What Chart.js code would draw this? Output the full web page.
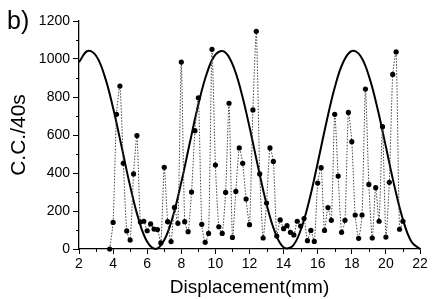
<!DOCTYPE html>
<html>
<head>
<meta charset="utf-8">
<script src="https://cdn.jsdelivr.net/npm/chart.js@4"></script>
<style>
  html, body { margin: 0; padding: 0; background: #ffffff; }
  #wrap { width: 436px; height: 299px; position: relative; }
</style>
</head>
<body>
<div id="wrap"><canvas id="c" width="436" height="299"></canvas></div>
<script>
// Measured points: displacement (mm) and counts per 40 s
const displacement = [
  3.8, 4.0, 4.2, 4.4, 4.6, 4.8, 5.0, 5.2, 5.4, 5.6, 5.8,
  6.0, 6.2, 6.4, 6.6, 6.8, 7.0, 7.2, 7.4, 7.6, 7.8,
  8.0, 8.2, 8.4, 8.6, 8.8, 9.0, 9.2, 9.4, 9.6, 9.8,
  10.0, 10.2, 10.4, 10.6, 10.8, 11.0, 11.2, 11.4, 11.6, 11.8,
  12.0, 12.2, 12.4, 12.6, 12.8, 13.0, 13.2, 13.4, 13.6, 13.8,
  14.0, 14.2, 14.4, 14.6, 14.8, 15.0, 15.2, 15.4, 15.6, 15.8,
  16.0, 16.2, 16.4, 16.6, 16.8, 17.0, 17.2, 17.4, 17.6, 17.8,
  18.0, 18.2, 18.4, 18.6, 18.8, 19.0, 19.2, 19.4, 19.6, 19.8,
  20.0, 20.2, 20.4, 20.6, 20.8, 21.0
];
const counts = [
  0, 140, 709, 858, 451, 95, 47, 395, 597, 142, 146,
  96, 132, 105, 102, 32, 430, 144, 39, 219, 135,
  984, 144, 91, 300, 623, 796, 130, 35, 82, 1051,
  442, 117, 82, 298, 767, 61, 303, 532, 451, 263,
  128, 732, 1146, 395, 58, 242, 532, 461, 68, 153,
  107, 123, 88, 74, 146, 121, 160, 44, 98, 40,
  347, 428, 98, 218, 151, 709, 384, 88, 151, 719,
  565, 179, 56, 179, 842, 340, 58, 323, 146, 644,
  63, 351, 919, 1037, 104, 146
];

// Fitted curve
const fitX = [
  2, 2.5, 3, 3.5, 4, 4.5, 5, 5.5, 6, 6.5, 7, 7.5, 8, 8.5, 9, 9.5,
  10, 10.5, 11, 11.5, 12, 12.5, 13, 13.5, 14, 14.5, 15, 15.5, 16, 16.5,
  17, 17.5, 18, 18.5, 19, 19.5, 20, 20.5, 21, 21.5, 22
];
const fitY = [
  983, 1042, 1017, 911, 742, 538, 331, 155, 38, 0, 47, 170, 351, 559, 761, 925,
  1023, 1040, 973, 832, 642, 433, 237, 87, 9, 13, 99, 254, 453, 662,
  850, 984, 1042, 1017, 911, 742, 538, 331, 155, 38, 0
];

// Axis ticks
const xTicks = [2, 4, 6, 8, 10, 12, 14, 16, 18, 20, 22];
const yTicks = [0, 200, 400, 600, 800, 1000, 1200];

const FONT = '"Liberation Sans", Arial, Helvetica, sans-serif';

const decor = {
  id: 'decor',
  afterDraw(chart) {
    const ctx = chart.ctx;
    const xs = chart.scales.x, ys = chart.scales.y;
    const area = chart.chartArea;
    ctx.save();
    ctx.strokeStyle = '#000';
    ctx.lineWidth = 1;
    // minor ticks
    for (let i = 0; i < xTicks.length - 1; i++) {
      const v = (xTicks[i] + xTicks[i + 1]) / 2;
      const px = Math.round(xs.getPixelForValue(v)) + 0.5;
      ctx.beginPath();
      ctx.moveTo(px, area.bottom);
      ctx.lineTo(px, area.bottom + 3);
      ctx.stroke();
    }
    for (let i = 0; i < yTicks.length - 1; i++) {
      const v = (yTicks[i] + yTicks[i + 1]) / 2;
      const py = Math.round(ys.getPixelForValue(v)) + 0.5;
      ctx.beginPath();
      ctx.moveTo(area.left, py);
      ctx.lineTo(area.left - 3, py);
      ctx.stroke();
    }
    // panel label
    ctx.fillStyle = '#000';
    ctx.font = '25px ' + FONT;
    ctx.textAlign = 'left';
    ctx.textBaseline = 'alphabetic';
    ctx.fillText('b)', 7, 29);
    ctx.restore();
  }
};

new Chart(document.getElementById('c'), {
  type: 'scatter',
  data: {
    datasets: [
      {
        label: 'fit',
        data: fitX.map((x, i) => ({ x: x, y: fitY[i] })),
        showLine: true,
        borderColor: '#000',
        borderWidth: 2,
        pointRadius: 0,
        tension: 0.4,
        fill: false,
        order: 2
      },
      {
        label: 'C.C./40s',
        data: displacement.map((x, i) => ({ x: x, y: counts[i] })),
        showLine: true,
        borderColor: '#444',
        borderWidth: 1,
        borderDash: [1.5, 1.5],
        pointRadius: 2.6,
        pointBackgroundColor: '#000',
        pointBorderColor: '#000',
        pointBorderWidth: 0,
        tension: 0.2,
        fill: false,
        order: 1
      }
    ]
  },
  options: {
    responsive: false,
    animation: false,
    devicePixelRatio: 1,
    clip: false,
    layout: { padding: { left: 0, right: 16, top: 21, bottom: 0 } },
    plugins: {
      legend: { display: false },
      tooltip: { enabled: false },
      title: { display: false }
    },
    scales: {
      x: {
        type: 'linear',
        min: 2, max: 22,
        afterBuildTicks(scale) { scale.ticks = xTicks.map(v => ({ value: v })); },
        afterFit(scale) { scale.height = 50; },
        border: { display: true, color: '#000', width: 1.3 },
        grid: { drawOnChartArea: false, drawTicks: true, tickLength: 5, tickColor: '#000', tickWidth: 1 },
        ticks: {
          color: '#000', padding: 2, maxRotation: 0, font: { family: FONT, size: 14 },
          callback: (v) => String(v)
        },
        title: {
          display: true, text: 'Displacement(mm)', color: '#000',
          font: { family: FONT, size: 19 }, padding: { top: 0, bottom: 0 }
        }
      },
      y: {
        type: 'linear',
        min: 0, max: 1200,
        afterBuildTicks(scale) { scale.ticks = yTicks.map(v => ({ value: v })); },
        afterFit(scale) { scale.width = 79; },
        border: { display: true, color: '#000', width: 1.3 },
        grid: { drawOnChartArea: false, drawTicks: true, tickLength: 6, tickColor: '#000', tickWidth: 1 },
        ticks: {
          color: '#000', padding: 3, font: { family: FONT, size: 14 },
          callback: (v) => String(v)
        },
        title: {
          display: true, text: 'C.C./40s', color: '#000',
          font: { family: FONT, size: 21, lineHeight: 1 }, padding: { top: 9, bottom: 0 }
        }
      }
    }
  },
  plugins: [decor]
});
</script>
</body>
</html>
